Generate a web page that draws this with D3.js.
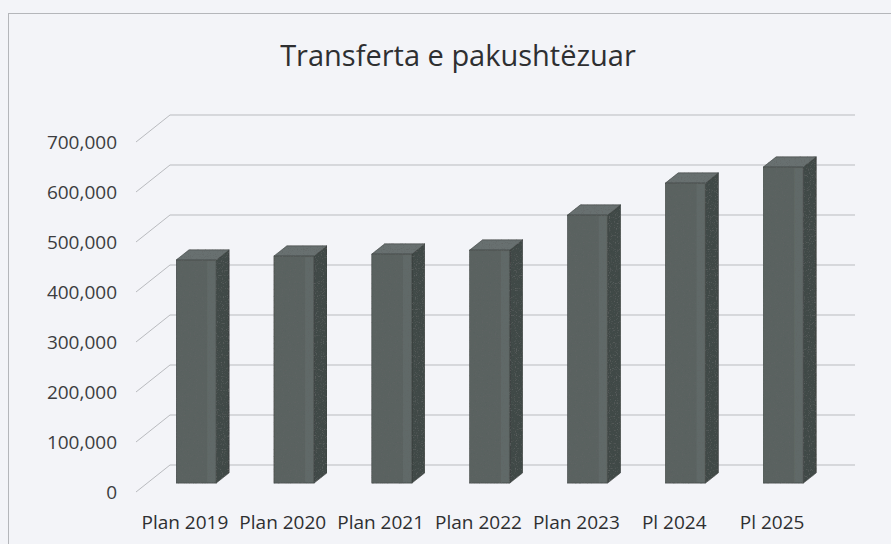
<!DOCTYPE html>
<html>
<head>
<meta charset="utf-8">
<script src="https://cdn.jsdelivr.net/npm/d3@7/dist/d3.min.js"></script>
<style>
  html, body { margin: 0; padding: 0; background: #f3f4f8; }
  svg { display: block; }
</style>
</head>
<body>
<div id="chart"></div>
<script>
/* ---------- data ---------- */
const categories = ["Plan 2019", "Plan 2020", "Plan 2021", "Plan 2022", "Plan 2023", "Pl 2024", "Pl 2025"];
const values = [446000, 454000, 458000, 466000, 536000, 600000, 632000];
const yTicks = [0, 100000, 200000, 300000, 400000, 500000, 600000, 700000];
const title = "Transferta e pakushtëzuar";

/* ---------- layout ---------- */
const width = 891, height = 544;
const DX = 34, DY = 27;          // depth vector (front -> back wall)
const frontDepth = 0.33, backDepth = 0.71;

const svg = d3.select("#chart").append("svg")
    .attr("width", width)
    .attr("height", height);

// speckle texture of the scanned bars
const defs = svg.append("defs");
const speckle = defs.append("filter").attr("id", "speckle")
    .attr("x", 0).attr("y", 0).attr("width", 1).attr("height", 1);
speckle.append("feTurbulence")
    .attr("type", "fractalNoise")
    .attr("baseFrequency", 0.85)
    .attr("numOctaves", 1)
    .attr("seed", 4)
    .attr("result", "noise");
speckle.append("feColorMatrix")
    .attr("in", "noise")
    .attr("type", "matrix")
    .attr("values", "0 0 0 0 0.12  0 0 0 0 0.13  0 0 0 0 0.13  -3.2 0 0 0 1.45")
    .attr("result", "dots");
speckle.append("feComposite")
    .attr("in", "dots").attr("in2", "SourceGraphic")
    .attr("operator", "in")
    .attr("result", "dotsIn");
const merge = speckle.append("feMerge");
merge.append("feMergeNode").attr("in", "SourceGraphic");
merge.append("feMergeNode").attr("in", "dotsIn");

svg.append("rect")
    .attr("width", width).attr("height", height)
    .attr("fill", "#f3f4f8");

// chart frame
svg.append("rect")
    .attr("x", 8.5).attr("y", 13.5)
    .attr("width", 900).attr("height", 600)
    .attr("fill", "none")
    .attr("stroke", "#b4b6ba")
    .attr("stroke-width", 1);

// title
svg.append("text")
    .attr("x", 458).attr("y", 66)
    .attr("text-anchor", "middle")
    .attr("font-family", "'Open Sans', sans-serif")
    .attr("font-size", 29)
    .attr("fill", "#2e2f31")
    .text(title);

/* ---------- scales ---------- */
const x = d3.scaleBand()
    .domain(categories)
    .range([136, 821])
    .paddingInner(0.59)
    .paddingOuter(0.295);

const y = d3.scaleLinear()
    .domain([0, 700000])
    .range([492, 142]);

/* ---------- walls / gridlines ---------- */
const grid = svg.append("g")
    .attr("stroke", "#b9bbbf")
    .attr("stroke-width", 1)
    .attr("fill", "none");

grid.selectAll("line.back")
    .data(yTicks)
    .enter()
    .append("line")
    .attr("class", "back")
    .attr("x1", 136 + DX).attr("x2", 821 + DX)
    .attr("y1", d => y(d) - DY).attr("y2", d => y(d) - DY);

grid.selectAll("line.side")
    .data(yTicks)
    .enter()
    .append("line")
    .attr("class", "side")
    .attr("x1", 136).attr("x2", 136 + DX)
    .attr("y1", d => y(d)).attr("y2", d => y(d) - DY);

/* ---------- y axis labels ---------- */
const fmt = d3.format(",");
svg.append("g")
    .selectAll("text")
    .data(yTicks)
    .enter()
    .append("text")
    .attr("x", 117)
    .attr("y", d => y(d))
    .attr("dy", "0.36em")
    .attr("text-anchor", "end")
    .attr("font-family", "'Open Sans', sans-serif")
    .attr("font-size", 19)
    .attr("fill", "#3c3d40")
    .text(d => fmt(d));

/* ---------- x axis labels ---------- */
svg.append("g")
    .selectAll("text")
    .data(categories)
    .enter()
    .append("text")
    .attr("x", d => x(d) + x.bandwidth() / 2)
    .attr("y", 529)
    .attr("text-anchor", "middle")
    .attr("font-family", "'Open Sans', sans-serif")
    .attr("font-size", 19)
    .attr("fill", "#2e2f31")
    .text(d => d);

/* ---------- 3D bars ---------- */
const bars = svg.append("g")
    .selectAll("g")
    .data(categories.map((c, i) => ({ cat: c, value: values[i] })))
    .enter()
    .append("g")
    .attr("filter", "url(#speckle)");

function pt(px, py) { return px + "," + py; }

bars.each(function (d) {
    const g = d3.select(this);
    const fx0 = x(d.cat) + frontDepth * DX;
    const fx1 = fx0 + x.bandwidth();
    const fy0 = y(0) - frontDepth * DY;
    const fy1 = y(d.value) - frontDepth * DY;
    const ddx = (backDepth - frontDepth) * DX;
    const ddy = (backDepth - frontDepth) * DY;

    // right side
    g.append("polygon")
        .attr("points", [pt(fx1, fy0), pt(fx1, fy1), pt(fx1 + ddx, fy1 - ddy), pt(fx1 + ddx, fy0 - ddy)].join(" "))
        .attr("fill", "#414846")
        .attr("stroke", "#323836")
        .attr("stroke-width", 0.6);

    // top
    g.append("polygon")
        .attr("points", [pt(fx0, fy1), pt(fx1, fy1), pt(fx1 + ddx, fy1 - ddy), pt(fx0 + ddx, fy1 - ddy)].join(" "))
        .attr("fill", "#687070")
        .attr("stroke", "#3c4240")
        .attr("stroke-width", 0.6);

    // front
    g.append("rect")
        .attr("x", fx0).attr("y", fy1)
        .attr("width", fx1 - fx0).attr("height", fy0 - fy1)
        .attr("fill", "#5a6260")
        .attr("stroke", "#3c4240")
        .attr("stroke-width", 0.6);

    // lighter strip on the right of the front face
    g.append("rect")
        .attr("x", fx1 - 9).attr("y", fy1 + 1)
        .attr("width", 8).attr("height", fy0 - fy1 - 2)
        .attr("fill", "#666e6c")
        .attr("opacity", 0.6);
});
</script>
</body>
</html>
